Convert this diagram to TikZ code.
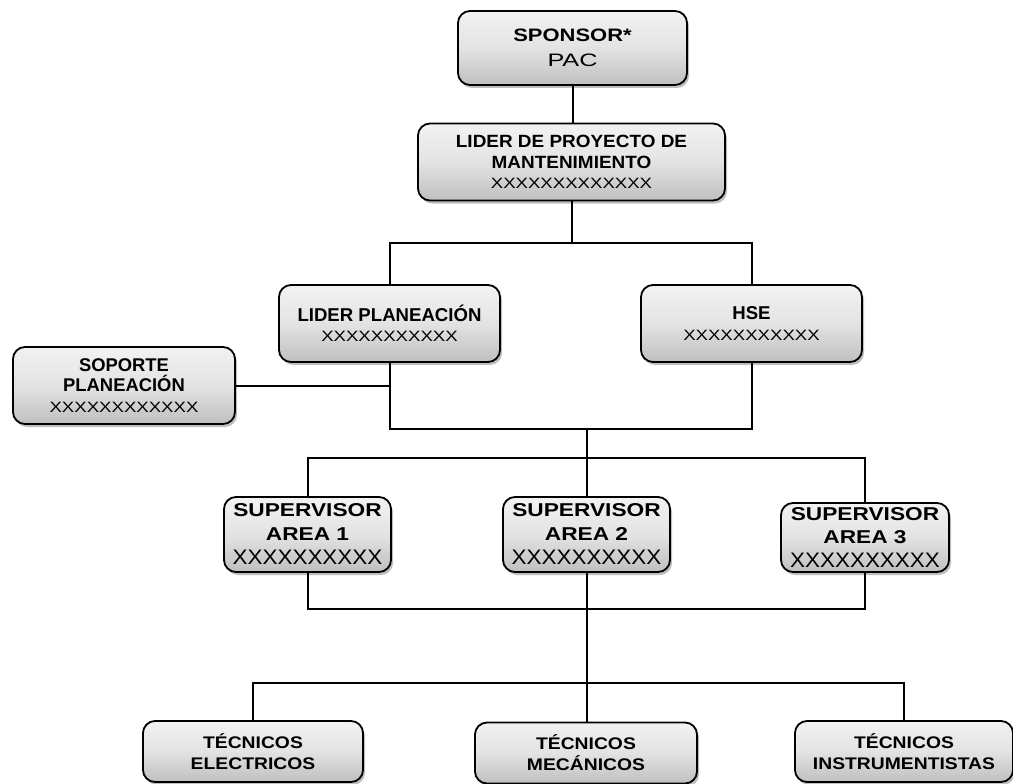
\documentclass[tikz,border=0pt]{standalone}
\usepackage{fontspec}
\setmainfont{Liberation Sans}
% widened faces for the box labels
\newfontfamily\fontW[FakeStretch=1.22]{Liberation Sans}
\newfontfamily\fontL[FakeStretch=1.07]{Liberation Sans}
\newfontfamily\fontP[FakeStretch=1.40]{Liberation Sans}
\newfontfamily\fontX[FakeStretch=1.24]{Liberation Sans}
\newfontfamily\fontS[FakeStretch=1.07]{Liberation Sans}
\newfontfamily\fontT[FakeStretch=1.15]{Liberation Sans}
\usetikzlibrary{shadows}
\begin{document}
\begin{tikzpicture}[x=1pt,y=-1pt,
  orgbox/.style={draw=black, line width=1.8pt, rounded corners=12pt,
    top color=gray!10, bottom color=gray!50, middle color=gray!22,
    drop shadow={shadow xshift=2pt, shadow yshift=-3pt, opacity=0.25, fill=black},
    inner sep=0pt, align=center, text=black},
  wire/.style={draw=black, line width=2pt}]
\fill[white] (0,0) rectangle (1013,784);
\useasboundingbox (0,0) rectangle (1013,784);

% boxes
\node[orgbox, minimum width=229pt, minimum height=74pt,
  font=\fontsize{18}{25}\selectfont] (sponsor) at (572.5,48)
  {{\fontW\bfseries SPONSOR*}\\{\fontP PAC}};
\node[orgbox, minimum width=307pt, minimum height=77pt,
  font=\fontsize{17.7}{20.5}\selectfont] (lider) at (571.5,162)
  {{\fontL\bfseries LIDER DE PROYECTO DE}\\{\fontL\bfseries MANTENIMIENTO}\\{\fontX\fontsize{15}{20.5}\selectfont XXXXXXXXXXXXX}};
\node[orgbox, minimum width=221pt, minimum height=77pt,
  font=\fontsize{18.6}{20.5}\selectfont] (lplan) at (389.5,323.5)
  {{\bfseries LIDER PLANEACIÓN}\\{\fontX\fontsize{15}{20.5}\selectfont XXXXXXXXXXX}};
\node[orgbox, minimum width=221pt, minimum height=77pt,
  font=\fontsize{18.6}{20.5}\selectfont] (hse) at (751.5,323.5)
  {{\bfseries HSE}\\{\fontX\fontsize{15}{20.5}\selectfont XXXXXXXXXXX}};
\node[orgbox, minimum width=222pt, minimum height=77pt,
  font=\fontsize{18.4}{20.5}\selectfont] (soporte) at (124,385.5)
  {{\bfseries SOPORTE}\\{\bfseries PLANEACIÓN}\\{\fontX\fontsize{15}{20.5}\selectfont XXXXXXXXXXXX}};

\node[orgbox, minimum width=167pt, minimum height=75pt,
  font=\fontsize{18.6}{24}\selectfont] (sup1) at (307.5,534.5)
  {{\fontW\bfseries SUPERVISOR}\\{\fontW\bfseries AREA 1}\\{\fontS\fontsize{21}{24}\selectfont XXXXXXXXXX}};
\node[orgbox, minimum width=167pt, minimum height=75pt,
  font=\fontsize{18.6}{24}\selectfont] (sup2) at (586.5,534.5)
  {{\fontW\bfseries SUPERVISOR}\\{\fontW\bfseries AREA 2}\\{\fontS\fontsize{21}{24}\selectfont XXXXXXXXXX}};
\node[orgbox, minimum width=168pt, minimum height=69pt,
  font=\fontsize{18.6}{23.5}\selectfont] (sup3) at (865,537.5)
  {{\fontW\bfseries SUPERVISOR}\\{\fontW\bfseries AREA 3}\\{\fontS\fontsize{21}{23.5}\selectfont XXXXXXXXXX}};

\node[orgbox, minimum width=220pt, minimum height=61pt,
  font=\fontT\bfseries\fontsize{16.8}{21}\selectfont] (elec) at (253,751.5)
  {TÉCNICOS\\ELECTRICOS};
\node[orgbox, minimum width=222pt, minimum height=61pt,
  font=\fontT\bfseries\fontsize{16.8}{21}\selectfont] (mec) at (586,753)
  {TÉCNICOS\\MECÁNICOS};
\node[orgbox, minimum width=218pt, minimum height=61pt,
  font=\fontT\bfseries\fontsize{16.8}{21}\selectfont] (instr) at (904,751.5)
  {TÉCNICOS\\INSTRUMENTISTAS};

% junction levels of the connector buses
\coordinate (busA) at (572,243);
\coordinate (busB) at (587,429);
\coordinate (busC) at (587,458);
\coordinate (busD) at (587,609);
\coordinate (busE) at (587,683);

% connectors
\draw[wire] (sponsor.south) -- (sponsor.south |- lider.north);
\draw[wire] (lider.south) -- (lider.south |- busA);
\draw[wire] (lplan.north) -- (lplan.north |- busA) -| (hse.north);
\draw[wire] (lplan.south) -- (lplan.south |- busB) -| (hse.south);
\draw[wire] (soporte.east) -- (soporte.east -| lplan.south);
\draw[wire] (busB) -- (busB |- sup2.north);
\draw[wire] (sup1.north) -- (sup1.north |- busC) -| (sup3.north);
\draw[wire] (sup1.south) -- (sup1.south |- busD) -| (sup3.south);
\draw[wire] (sup2.south) -- (sup2.south |- mec.north);
\draw[wire] (elec.north) -- (elec.north |- busE) -| (instr.north);
\end{tikzpicture}
\end{document}
